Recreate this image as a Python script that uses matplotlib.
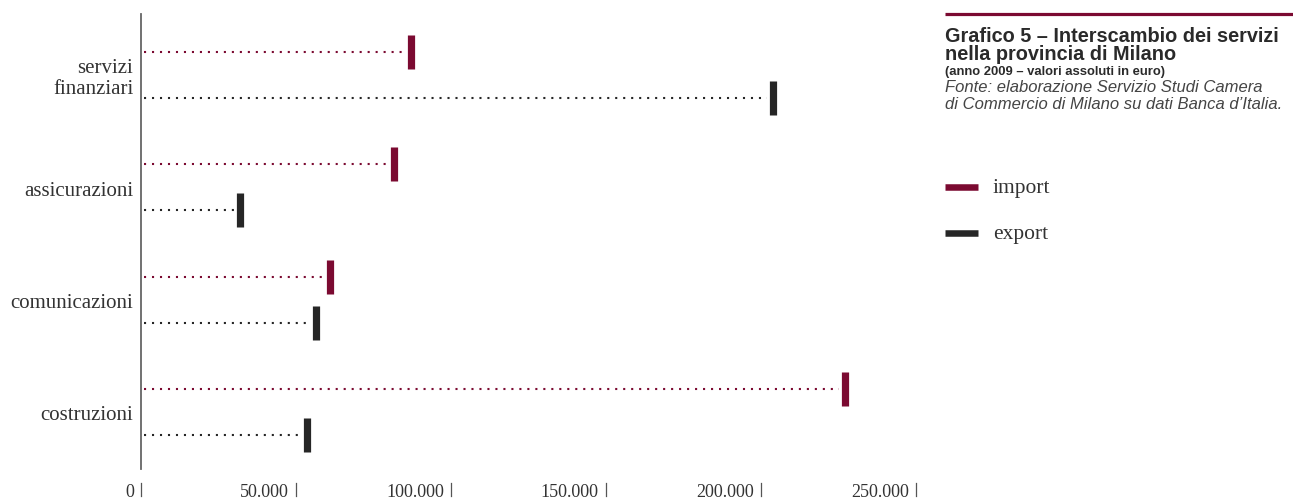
import matplotlib.pyplot as plt
from matplotlib.lines import Line2D

# Interscambio dei servizi, provincia di Milano, anno 2009 (euro)
categorie = ['servizi\nfinanziari', 'assicurazioni', 'comunicazioni', 'costruzioni']
valori_import = [87000, 81500, 61000, 227000]
valori_export = [204000, 32000, 56500, 53500]
tick_valori = [0, 50000, 100000, 150000, 200000, 250000]
tick_etichette = ['0', '50.000', '100.000', '150.000', '200.000', '250.000']

col_import = '#7b0a31'
col_export = '#262626'
serif = ['Liberation Serif', 'DejaVu Serif']
sans = ['Liberation Sans', 'DejaVu Sans']

plt.rcParams['lines.scale_dashes'] = False

W, H = 1293, 502
fig = plt.figure(figsize=(W / 100, H / 100), dpi=100)
ax = fig.add_axes([141 / W, 1 - 470 / H, 775 / W, 455 / H])

ax.set_xlim(0, 250000)
ax.set_ylim(3.51, -0.545)

offset = 0.205
gap = 2000
for i in range(len(categorie)):
    for val, dy, col in [(valori_import[i], -offset, col_import),
                         (valori_export[i], offset, col_export)]:
        y = i + dy
        ax.hlines(y, 1000, val - gap, color=col, lw=1.5,
                  linestyle=(0, (1.5, 4.25)))
        ax.plot([val], [y], marker='|', markersize=24.5, markeredgewidth=5.2,
                color=col, linestyle='none')

for i, nome in enumerate(categorie):
    ax.text(-2500, i + 0.025, nome, ha='right', va='center', family=serif,
            fontsize=15, color='#333333', linespacing=1.2)

# asse x: etichetta a sinistra del trattino
for v, lab in zip(tick_valori, tick_etichette):
    ax.plot([v, v], [-0.031, -0.06], color='#555555', lw=0.9,
            transform=ax.get_xaxis_transform(), clip_on=False)
    ax.text(v - 2300, -0.05, lab, ha='right', va='center', family=serif,
            fontsize=13, color='#333333', transform=ax.get_xaxis_transform())

for s in ['top', 'right', 'bottom']:
    ax.spines[s].set_visible(False)
ax.spines['left'].set_color('#666666')
ax.spines['left'].set_linewidth(1.3)
ax.set_xticks([])
ax.set_yticks([])

# pannello del titolo
fig.add_artist(Line2D([945 / W, 1.0], [1 - 15 / H] * 2, color=col_import, lw=2.3,
                      solid_capstyle='butt'))
fig.text(945 / W, 1 - 36 / H, 'Grafico 5 – Interscambio dei servizi', family=sans,
         fontweight='bold', fontsize=14.3, color='#2a2a2a', va='center')
fig.text(945 / W, 1 - 54 / H, 'nella provincia di Milano', family=sans,
         fontweight='bold', fontsize=14.3, color='#2a2a2a', va='center')
fig.text(945 / W, 1 - 71.5 / H, '(anno 2009 – valori assoluti in euro)', family=sans,
         fontweight='bold', fontsize=9.4, color='#2a2a2a', va='center')
fig.text(945 / W, 1 - 87.5 / H, 'Fonte: elaborazione Servizio Studi Camera', family=sans,
         style='italic', fontsize=12, color='#444444', va='center')
fig.text(945 / W, 1 - 104.5 / H, 'di Commercio di Milano su dati Banca d’Italia.', family=sans,
         style='italic', fontsize=12, color='#444444', va='center')

# legenda
for yy, col, lab in [(188, col_import, 'import'), (234, col_export, 'export')]:
    fig.add_artist(Line2D([945 / W, 978 / W], [1 - yy / H] * 2, color=col, lw=4.7,
                          solid_capstyle='butt'))
    fig.text(993 / W, 1 - (yy + 1) / H, lab, family=serif, fontsize=15.5,
             color='#333333', va='center')

fig.savefig('out.png', dpi=100)
